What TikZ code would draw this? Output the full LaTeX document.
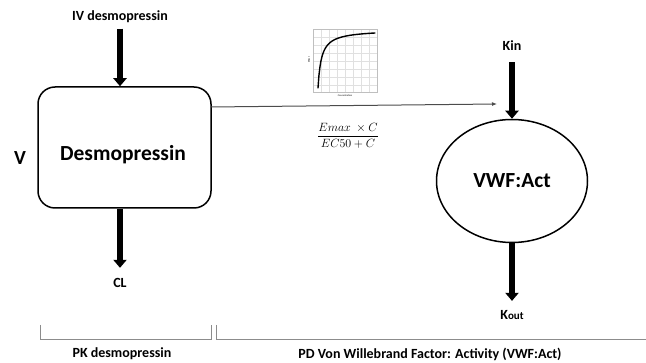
\documentclass[tikz,border=0pt]{standalone}
\usepackage{fontspec}
\setmainfont{Carlito}
\usetikzlibrary{arrows.meta,shapes.geometric}
\tikzset{
  lbl/.style={font=\fontsize{14}{16}\selectfont\bfseries},
  cmt/.style={draw,line width=1.5pt,rounded corners=17pt,inner sep=0pt},
  flow/.style={line width=6pt,-{Triangle[width=13pt,length=8pt]}},
  link/.style={draw=black!70,line width=1pt,-{Latex[length=5pt,width=4pt]}},
  brace/.style={draw=black!45,line width=1pt}
}
\begin{document}
\begin{tikzpicture}[x=1pt,y=-1pt]
                \useasboundingbox (0,0) rectangle (646,363);
                % PK part
                \node[lbl] (iv) at (120,17) {IV desmopressin};
                \node[cmt,minimum width=173pt,minimum height=121pt] (desmo) at (124.5,147.5) {};
                \node[font=\fontsize{21.5}{24}\selectfont\bfseries] (desmotxt) at (123,155) {Desmopressin};
                \node[font=\fontsize{20}{22}\selectfont\bfseries] (vol) at (20,158) {V};
                \node[lbl] (cl) at (120,283) {CL};
                \draw[flow] ([yshift=-2pt]iv.south) -- (iv.south |- desmo.north);
                \draw[flow] (cl.north |- desmo.south) -- ([yshift=7pt]cl.north);
                % PD part
                \node[draw,ellipse,line width=1.5pt,minimum width=151pt,minimum height=123pt,inner sep=0pt,
                      font=\fontsize{21.5}{24}\selectfont\bfseries] (vwf) at (512,181) {VWF:Act};
                \node[lbl] (kin) at (512,46) {Kin};
                \node[lbl] (kout) at (512,315) {K{\fontsize{11}{12}\selectfont out}};
                \draw[flow] ([yshift=-8pt]kin.south) -- (vwf.north);
                \draw[flow] (vwf.south) -- ([yshift=6pt]kout.north);
                % Emax link
                \coordinate (pkout) at (211,107);
                \coordinate (kinhit) at (497,104);
                \draw[link] (pkout) -- (kinhit);
                \node[font=\fontsize{12}{14}\selectfont] (emax) at (348,136) {$\displaystyle\frac{Emax\ \times C}{EC50+C}$};
                % small Emax curve
                \foreach \gx in {321,329,...,377} \draw[black!12,line width=0.4pt] (\gx,29) -- (\gx,92);
                \foreach \gy in {37,45,...,92} \draw[black!12,line width=0.4pt] (313,\gy) -- (377,\gy);
                \draw[black!25,line width=0.6pt] (313,29) rectangle (377,92);
                \draw[line width=1.4pt,line cap=round] plot[domain=0:1,samples=60] ({318+57*\x},{88-58.3*\x/(0.06+\x)});
                \node[font=\fontsize{2.5}{3}\selectfont,rotate=90] (effect) at (309,60) {Effect};
                \node[font=\fontsize{2.5}{3}\selectfont] (conc) at (345,96) {Concentration};
                % brackets
                \draw[brace] (40,325) -- (40,340) -- (211,340) -- (211,325);
                \draw[brace] (216,325) -- (216,340) -- (646,340);
                \node[lbl] (pk) at (122,354) {PK desmopressin};
                \node[lbl] (pd) at (430,354) {PD Von Willebrand Factor: Activity (VWF:Act)};
            \end{tikzpicture}
\end{document}
